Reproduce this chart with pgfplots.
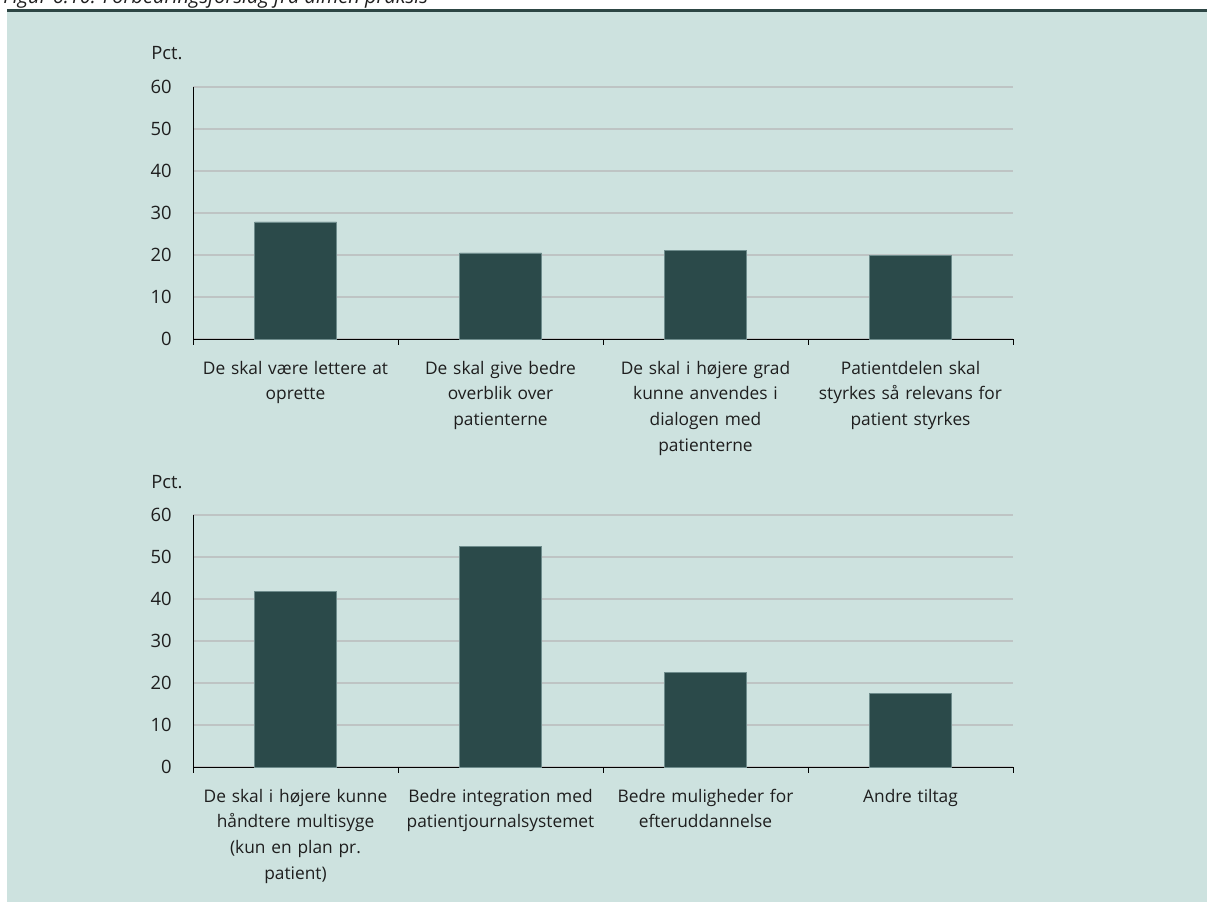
\documentclass[border=0pt]{standalone}
\usepackage{pgfplots}
\pgfplotsset{compat=1.18}
\usepackage{fontspec}
\setmainfont{Open Sans}
\hyphenpenalty=10000
\exhyphenpenalty=10000
\definecolor{bgcol}{RGB}{205,226,223}
\definecolor{barcol}{RGB}{43,74,74}
\definecolor{baredge}{RGB}{110,140,140}
\definecolor{gridcol}{RGB}{190,196,196}
\definecolor{linecol}{RGB}{45,70,68}
\definecolor{txtcol}{RGB}{30,30,30}
\pgfplotstableread{
x y
0 27.9
1 20.5
2 21.1
3 19.9
}\topdata
\pgfplotstableread{
x y
0 41.9
1 52.6
2 22.6
3 17.6
}\botdata
\pgfplotsset{
  mybars/.style={
    width=615pt, height=189pt, scale only axis,
    anchor=south west,
    xmin=-0.5, xmax=3.5, ymin=0, ymax=60,
    ytick={0,10,...,60},
    axis x line*=bottom, axis y line*=left,
    axis line style={-, black, line width=0.7pt},
    ymajorgrids, grid style={gridcol, line width=0.9pt},
    ytick style={draw=none},
    xtick={-0.5,0.5,1.5,2.5,3.5}, xticklabels={},
    xtick style={black, line width=0.7pt},
    tick align=outside, major tick length=4.5pt,
    extra x ticks={0,1,2,3},
    extra x tick style={major tick length=0pt, grid=none, tick style={draw=none}},
    font=\fontsize{13.8}{18}\selectfont,
    tick label style={txtcol},
    y tick label style={xshift=-8pt},
    x tick label style={text width=156pt, align=center, yshift=-13pt, font=\fontsize{13}{19.2}\selectfont},
    /pgf/number format/assume math mode=true,
    bar width=61.5pt,
    clip=false,
  }
}
\begin{document}
\hyphenpenalty=10000
\exhyphenpenalty=10000
\begin{tikzpicture}
\useasboundingbox (0,0) rectangle (905.25pt,676.5pt);
\fill[bgcol] (5.25pt,0pt) rectangle (905.25pt,667.5pt);
\draw[linecol, line width=2.3pt] (5.25pt,668.6pt) -- (905.25pt,668.6pt);
\node[anchor=base west, inner sep=0pt, font=\fontsize{15}{18}\selectfont\itshape, txtcol] at (2.25pt,674.2pt) {Figur 6.10: Forbedringsforslag fra almen praksis};

\begin{axis}[mybars, at={(144.75pt,422.25pt)},
  extra x tick labels={{De skal være lettere at\\oprette}, {De skal give bedre\\overblik over\\patienterne}, {De skal i højere grad\\kunne anvendes i\\dialogen med\\patienterne}, {Patientdelen skal\\styrkes så relevans for\\patient styrkes}}]
  \addplot[ybar, fill=barcol, draw=baredge, line width=0.4pt] table[x=x, y=y] {\topdata};
  \node[anchor=west, inner sep=0pt, txtcol] at (rel axis cs:0,1) [xshift=-31.5pt, yshift=25.5pt] {Pct.};
\end{axis}

\begin{axis}[mybars, at={(144.75pt,101.25pt)},
  extra x tick labels={{De skal i højere kunne\\håndtere multisyge\\(kun en plan pr.\\patient)}, {Bedre integration med\\patientjournalsystemet}, {Bedre muligheder for\\efteruddannelse}, {Andre tiltag}}]
  \addplot[ybar, fill=barcol, draw=baredge, line width=0.4pt] table[x=x, y=y] {\botdata};
  \node[anchor=west, inner sep=0pt, txtcol] at (rel axis cs:0,1) [xshift=-31.5pt, yshift=25pt] {Pct.};
\end{axis}
\end{tikzpicture}
\end{document}
